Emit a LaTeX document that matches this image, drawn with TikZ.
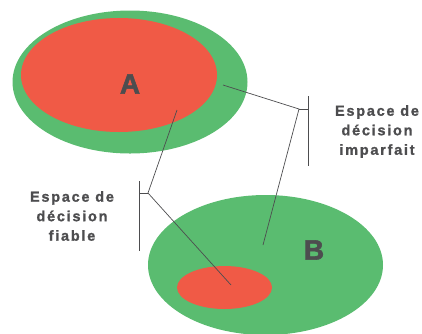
\documentclass[tikz,border=0pt]{standalone}
\usepackage{fontspec}
\setmainfont{Liberation Sans}
\newfontfamily\etiq{Liberation Sans}[UprightFont=* Bold,LetterSpace=12,FakeBold=1.2]
\newfontfamily\gras{Liberation Sans}[UprightFont=* Bold,FakeBold=2]
\usetikzlibrary{shapes.geometric}
\definecolor{vert}{RGB}{90,188,112}
\definecolor{rouge}{RGB}{240,90,70}
\definecolor{gris}{RGB}{77,77,79}
\begin{document}
\begin{tikzpicture}[x=1pt,y=-1pt,
  zone/.style={ellipse,inner sep=0pt,draw=none},
  lien/.style={draw=gris,line width=0.7pt},
  crochet/.style={draw=gris,line width=0.9pt},
  texte/.style={text=gris,align=center,font=\etiq\fontsize{14.5}{19.5}\selectfont},
  lettre/.style={text=gris,font=\gras\fontsize{28}{30}\selectfont}]
\useasboundingbox (0,0) rectangle (422,333);
% ensembles A et B
\node[zone,fill=vert,minimum width=235pt,minimum height=143pt] (gA) at (130,82) {};
\node[zone,fill=rouge,minimum width=196pt,minimum height=114pt] (rA) at (119,75) {};
\node[zone,fill=vert,minimum width=235pt,minimum height=140pt] (gB) at (265.5,265) {};
\node[zone,fill=rouge,minimum width=95pt,minimum height=43pt] (rB) at (224.5,287.5) {};
\node[lettre] (A) at (130,84) {A};
\node[lettre] (B) at (314,250) {B};
% textes
\node[texte] (t1) at (377,131.5) {Espace de\\décision\\imparfait};
\node[texte] (t2) at (72,216) {Espace de\\décision\\fiable};
% crochets
\coordinate (h1) at (308,96);
\coordinate (b1) at (308,166);
\coordinate (m1) at (308,109);
\coordinate (j1) at (299,109);
\coordinate (h2) at (139,181);
\coordinate (b2) at (139,251);
\coordinate (m2) at (139,193);
\coordinate (j2) at (148,193);
\draw[crochet] (h1) -- (b1);
\draw[crochet] (m1) -- (j1);
\draw[crochet] (h2) -- (b2);
\draw[crochet] (m2) -- (j2);
% liens
\coordinate (p1) at (223,85);
\coordinate (p2) at (263,245);
\coordinate (p3) at (177,110);
\coordinate (p4) at (231,285);
\draw[lien] (p1) -- (j1) -- (p2);
\draw[lien] (p3) -- (j2) -- (p4);
\end{tikzpicture}
\end{document}
